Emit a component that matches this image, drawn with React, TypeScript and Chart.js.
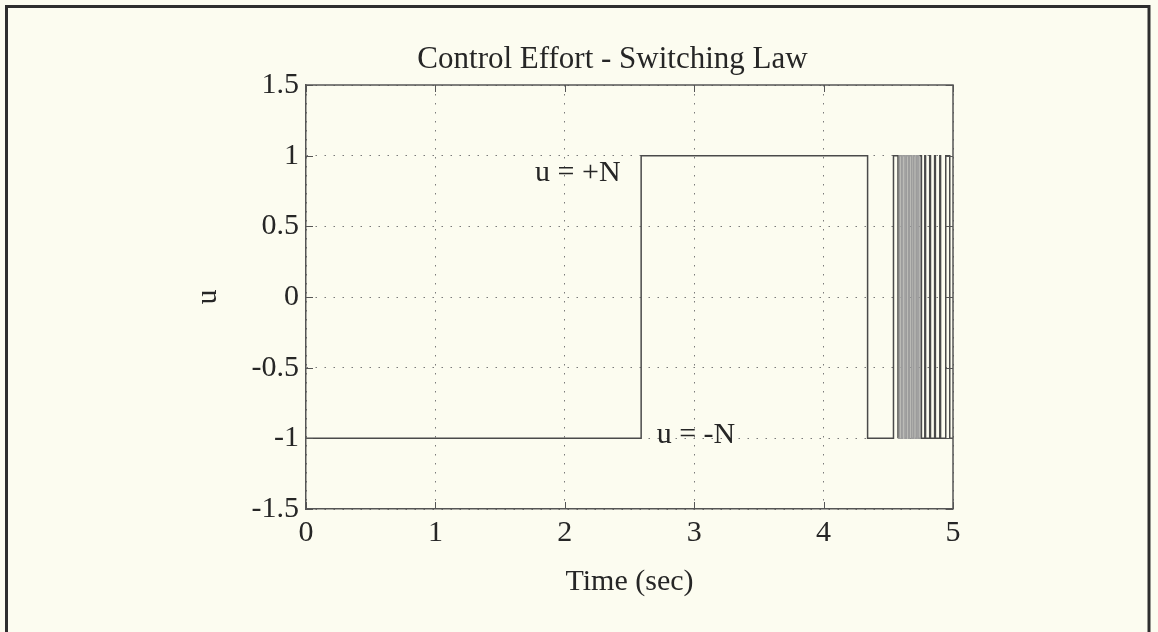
import React, { useEffect, useRef } from "react";
import { Chart, registerables } from "chart.js";

Chart.register(...registerables);

// ---- data ----
// switching instants (sec) and the control value that starts at each instant
const switchTimes = [
  0, 2.59, 4.34, 4.54,
  4.575, 4.587, 4.601, 4.613, 4.628, 4.64, 4.654, 4.666, 4.68, 4.693, 4.706, 4.719, 4.731, 4.745,
  4.756, 4.782, 4.788, 4.82, 4.826, 4.858, 4.864, 4.898, 4.904, 4.944, 4.975, 5,
];
const controlValues = [
  -1, 1, -1, 1,
  -1, 1, -1, 1, -1, 1, -1, 1, -1, 1, -1, 1, -1, 1,
  -1, 1, -1, 1, -1, 1, -1, 1, -1, 1, -1, -1,
];
const xTickValues = [0, 1, 2, 3, 4, 5];
const xTickLabels = ["0", "1", "2", "3", "4", "5"];
const yTickValues = [-1.5, -1, -0.5, 0, 0.5, 1, 1.5];
const yTickLabels = ["-1.5", "-1", "-0.5", "0", "0.5", "1", "1.5"];
const titleText = "Control Effort - Switching Law";
const xAxisText = "Time (sec)";
const yAxisText = "u";
const noteTexts = ["u = +N", "u = -N"];
const noteTimes = [1.77, 2.71];
const noteLevels = [0.823, -1.035];
// interval where the chattering is so dense it prints as a grey band
const chatterBand = [4.57, 4.75];

const FONT = "'Liberation Serif', 'Times New Roman', 'DejaVu Serif', serif";
const TEXT = "#262626";
const AXIS = "#555555";
const BG = "#fcfcf0";

const decorPlugin = {
  id: "decor",
  beforeDraw(chart: any) {
    const ctx = chart.ctx;
    ctx.save();
    ctx.fillStyle = BG;
    ctx.fillRect(0, 0, chart.width, chart.height);
    ctx.strokeStyle = "#2e2e2e";
    ctx.lineWidth = 3;
    ctx.beginPath();
    ctx.moveTo(6.5, chart.height + 10);
    ctx.lineTo(6.5, 6.5);
    ctx.lineTo(1149, 6.5);
    ctx.lineTo(1149, chart.height + 10);
    ctx.stroke();
    ctx.restore();
  },
  afterDraw(chart: any) {
    const ctx = chart.ctx;
    const a = chart.chartArea;
    const xs = chart.scales.x;
    const ys = chart.scales.y;
    ctx.save();
    // top and right sides of the box
    ctx.strokeStyle = AXIS;
    ctx.lineWidth = 1.5;
    ctx.beginPath();
    ctx.moveTo(a.left, a.top);
    ctx.lineTo(a.right, a.top);
    ctx.lineTo(a.right, a.bottom);
    ctx.stroke();
    // inward tick marks
    ctx.lineWidth = 1;
    ctx.beginPath();
    const tl = 7;
    xTickValues.forEach((v) => {
      const px = Math.round(xs.getPixelForValue(v)) + 0.5;
      ctx.moveTo(px, a.bottom);
      ctx.lineTo(px, a.bottom - tl);
      ctx.moveTo(px, a.top);
      ctx.lineTo(px, a.top + tl);
    });
    yTickValues.forEach((v) => {
      const py = Math.round(ys.getPixelForValue(v)) + 0.5;
      ctx.moveTo(a.left, py);
      ctx.lineTo(a.left + tl, py);
      ctx.moveTo(a.right, py);
      ctx.lineTo(a.right - tl, py);
    });
    ctx.stroke();
    // title
    ctx.fillStyle = TEXT;
    ctx.font = `31px ${FONT}`;
    ctx.textAlign = "center";
    ctx.textBaseline = "alphabetic";
    ctx.fillText(titleText, (a.left + a.right) / 2 - 17, a.top - 17);
    // annotations
    ctx.font = `30px ${FONT}`;
    ctx.textAlign = "left";
    noteTexts.forEach((t, i) => {
      ctx.fillText(t, xs.getPixelForValue(noteTimes[i]), ys.getPixelForValue(noteLevels[i]));
    });
    ctx.restore();
  },
};

export default function App() {
  const ref = useRef<HTMLCanvasElement>(null);
  useEffect(() => {
    const canvas = ref.current;
    if (!canvas) return;
    const tickFont = { family: FONT, size: 30 };
    const chart = new Chart(canvas, {
      type: "line",
      data: {
        datasets: [
          {
            label: "u",
            data: switchTimes.map((t, i) => ({ x: t, y: controlValues[i] })),
            stepped: "before",
            borderColor: "#4a4a4a",
            borderWidth: 1.5,
            pointRadius: 0,
            fill: false,
            segment: {
              borderColor: (c: any) =>
                c.p0.parsed.x >= chatterBand[0] && c.p1.parsed.x <= chatterBand[1] ? "#9c9c9c" : "#4a4a4a",
            },
          },
        ],
      },
      options: {
        animation: false,
        responsive: false,
        devicePixelRatio: 1,
        layout: { padding: { left: 0, right: 205, top: 85, bottom: 0 } },
        plugins: { legend: { display: false }, tooltip: { enabled: false }, title: { display: false } },
        scales: {
          x: {
            type: "linear",
            min: 0,
            max: 5,
            afterBuildTicks: (s: any) => {
              s.ticks = xTickValues.map((v) => ({ value: v }));
            },
            afterFit: (s: any) => {
              s.height = 123;
            },
            ticks: {
              autoSkip: false,
              maxRotation: 0,
              padding: 6,
              color: TEXT,
              font: tickFont,
              callback: (v: any) => xTickLabels[xTickValues.indexOf(Number(v))],
            },
            grid: { color: "#7a7a7a", lineWidth: 1, drawTicks: false },
            border: { display: true, color: AXIS, width: 1.5, dash: [1.5, 7.5] },
            title: {
              display: true,
              text: xAxisText,
              color: TEXT,
              font: { family: FONT, size: 30 },
              padding: { top: 0, bottom: 32 },
            },
          },
          y: {
            type: "linear",
            min: -1.5,
            max: 1.5,
            afterBuildTicks: (s: any) => {
              s.ticks = yTickValues.map((v) => ({ value: v }));
            },
            afterFit: (s: any) => {
              s.width = 306;
            },
            ticks: {
              autoSkip: false,
              padding: 7,
              color: TEXT,
              font: tickFont,
              callback: (v: any) => yTickLabels[yTickValues.indexOf(Number(v))],
            },
            grid: { color: "#7a7a7a", lineWidth: 1, drawTicks: false },
            border: { display: true, color: AXIS, width: 1.5, dash: [1.5, 7.5] },
            title: {
              display: true,
              text: yAxisText,
              color: TEXT,
              font: { family: FONT, size: 30 },
              padding: { top: 190, bottom: 0 },
            },
          },
        },
      },
      plugins: [decorPlugin],
    } as any);
    return () => chart.destroy();
  }, []);
  return (
    <div
      style={{
        position: "fixed",
        left: 0,
        top: 0,
        width: 1158,
        height: 632,
        background: BG,
        overflow: "hidden",
      }}
    >
      <canvas ref={ref} width={1158} height={632} style={{ display: "block", width: 1158, height: 632 }} />
    </div>
  );
}
